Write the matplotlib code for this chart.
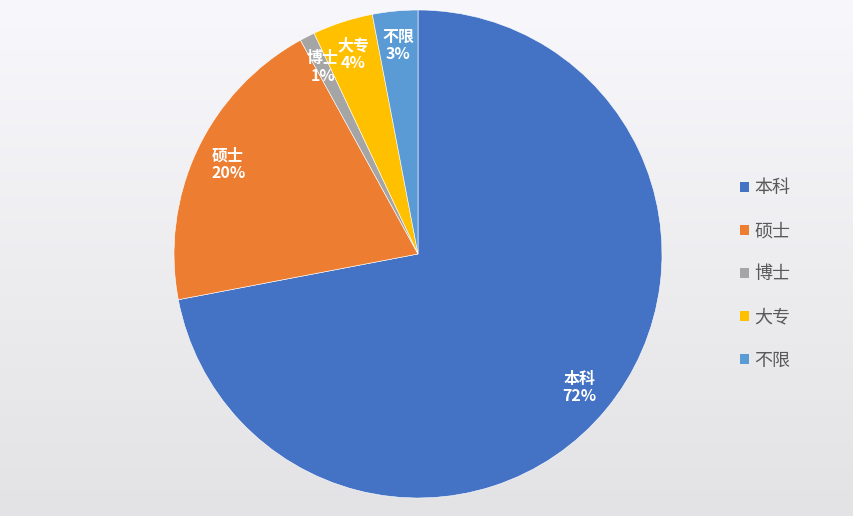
import matplotlib
matplotlib.use("Agg")
import matplotlib.pyplot as plt
import numpy as np
from matplotlib.colors import LinearSegmentedColormap

plt.rcParams['font.family'] = ['Noto Sans CJK SC', 'DejaVu Sans']

categories = ['本科', '硕士', '博士', '大专', '不限']
values = [72, 20, 1, 4, 3]
colors = ['#4472C4', '#ED7D31', '#A5A5A5', '#FFC000', '#5B9BD5']

W, H = 854, 516
fig = plt.figure(figsize=(W / 100, H / 100), dpi=100)

# background gradient
bg = fig.add_axes([0, 0, 1, 1], zorder=-10)
cmap = LinearSegmentedColormap.from_list('bg', ['#F8F8FC', '#E3E3E5'])
grad = np.linspace(0, 1, 256).reshape(-1, 1)
bg.imshow(grad, aspect='auto', cmap=cmap, extent=[0, 1, 0, 1])
bg.axis('off')

cx, cy, r = 418, 254, 244
ax = fig.add_axes([(cx - r) / W, (H - cy - r) / H, 2 * r / W, 2 * r / H])
ax.set_facecolor('none')
labels = [f"{c}\n{v}%" for c, v in zip(categories, values)]
wedges, texts = ax.pie(values, colors=colors, startangle=90, counterclock=False,
                       labels=labels, labeldistance=0.86,
                       wedgeprops=dict(edgecolor='white', linewidth=0.4),
                       textprops=dict(color='white', fontsize=11.5, fontweight='bold',
                                      linespacing=1.1))
for t in texts:
    t.set_ha('center')
    t.set_va('center')
ax.set_xlim(-1, 1)
ax.set_ylim(-1, 1)
ax.set_aspect('equal')
ax.axis('off')

leg = fig.legend(wedges, categories, loc='center left',
                 bbox_to_anchor=(731 / W, 1 - 274.5 / H),
                 frameon=False, fontsize=13, labelspacing=1.39,
                 handlelength=0.5, handleheight=0.5, handletextpad=0.3,
                 borderpad=0, labelcolor='#595959')
for h in leg.legend_handles:
    h.set_edgecolor('none')

fig.savefig('out.png', dpi=100)
